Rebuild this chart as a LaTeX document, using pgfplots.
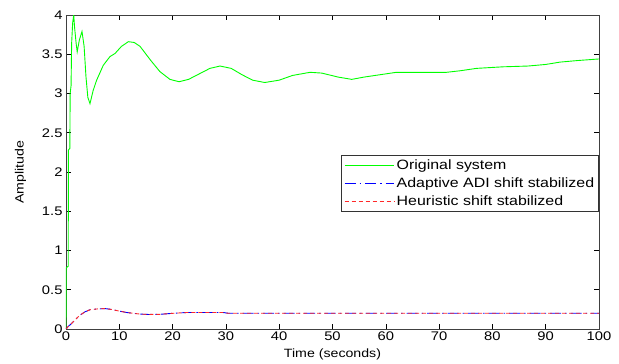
\documentclass[border=0pt]{standalone}
\usepackage{pgfplots}
\pgfplotsset{compat=1.18}
\usepackage{fontspec}
\setmainfont[FakeStretch=1.18]{Liberation Sans}
\begin{document}
\begin{tikzpicture}
\begin{axis}[name=ax,
  scale only axis, width=533pt, height=314pt,
  xmin=0, xmax=100, ymin=0, ymax=4,
  xtick={0,10,...,100}, ytick={0,0.5,...,4},
  yticklabels={0,0.5,1,1.5,2,2.5,3,3.5,4},
  tick align=inside, major tick length=5pt,
  tick style={black, line width=0.6pt},
  axis line style={black!75, line width=0.8pt},
  ticklabel style={font=\fontsize{12.5}{13}\selectfont},
  xticklabel style={yshift=1pt},
  /pgf/number format/assume math mode=true,
  xlabel={Time (seconds)}, ylabel={Amplitude},
  label style={font=\fontsize{12}{13}\selectfont},
  xlabel style={yshift=-2pt},
  ylabel style={yshift=9pt},
  legend style={at={(1,0.554)}, anchor=north east, draw=black!80, line width=0.6pt,
    font=\fontsize{13.5}{14}\selectfont, inner sep=2.5pt, row sep=2.5pt,
    legend cell align=left},
  legend image code/.code={\draw[#1] (0cm,0cm) -- (1.75cm,0cm);},
]
\addplot[color={rgb,255:red,0;green,255;blue,0}, line width=0.9pt] coordinates {
(0,0) (0.05,0.78) (0.42,0.8) (0.45,2.28) (0.72,2.3) (0.78,3.0) (0.95,3.1) (1.06,3.64) (1.25,3.9) (1.45,4.0) (1.6,3.85) (1.9,3.64) (2.1,3.53) (2.5,3.68) (3.0,3.79) (3.4,3.6) (3.75,3.21) (4.1,2.95) (4.5,2.87) (5.1,3.04) (5.75,3.17) (7.0,3.36) (8.25,3.47) (9.2,3.51) (10.4,3.6) (11.7,3.66) (12.8,3.65) (13.9,3.6) (15.8,3.43) (17.6,3.28) (19.5,3.18) (21.2,3.15) (23,3.18) (25,3.25) (27,3.32) (28.9,3.35) (31,3.32) (33,3.24) (35,3.17) (37.3,3.14) (40,3.17) (42.5,3.23) (45.8,3.27) (48,3.26) (51,3.21) (53.6,3.18) (56,3.21) (59,3.24) (62,3.27) (67,3.27) (71.4,3.27) (74,3.29) (77,3.32) (82,3.34) (86.7,3.35) (90,3.37) (92.7,3.40) (96,3.42) (100,3.44)
};
\addlegendentry{Original system}
\addplot[color={rgb,255:red,0;green,0;blue,255}, line width=0.9pt, dash pattern=on 11pt off 4pt on 1.5pt off 4pt] coordinates {
(0,0) (0.4,0.03) (1.5,0.1) (2.5,0.17) (3.6,0.22) (4.5,0.245) (5.75,0.255) (7.3,0.26) (8.5,0.25) (9.5,0.235) (11.4,0.21) (13.9,0.19) (15.5,0.185) (17.6,0.187) (20.1,0.2) (22.6,0.21) (25,0.21) (29.5,0.21) (30.5,0.2) (100,0.2)
};
\addlegendentry{Adaptive ADI shift stabilized}
\addplot[color={rgb,255:red,255;green,40;blue,40}, line width=0.9pt, dash pattern=on 4pt off 3pt] coordinates {
(0,0) (0.4,0.03) (1.5,0.1) (2.5,0.17) (3.6,0.22) (4.5,0.245) (5.75,0.255) (7.3,0.26) (8.5,0.25) (9.5,0.235) (11.4,0.21) (13.9,0.19) (15.5,0.185) (17.6,0.187) (20.1,0.2) (22.6,0.21) (25,0.21) (29.5,0.21) (30.5,0.2) (100,0.2)
};
\addlegendentry{Heuristic shift stabilized}
\end{axis}
\pgfresetboundingbox
\path[use as bounding box] ([shift={(-66pt,-35pt)}]ax.south west) rectangle ([shift={(20pt,15pt)}]ax.north east);
\end{tikzpicture}
\end{document}
